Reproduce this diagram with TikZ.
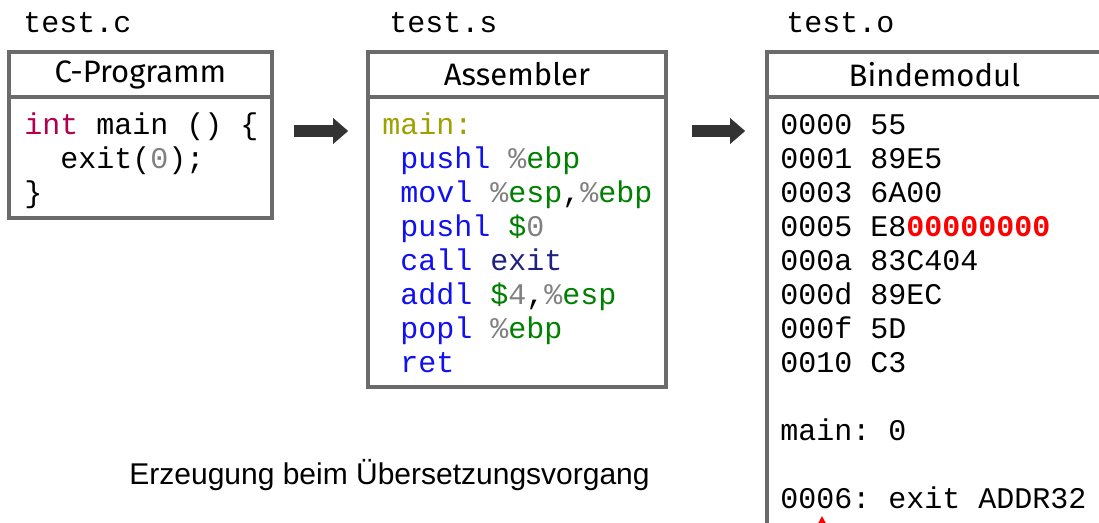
\documentclass[tikz,border=0pt]{standalone}
\usepackage{fontspec}
\setmainfont{Liberation Sans}
\setmonofont{Liberation Mono}
\newfontfamily\kopffont{Fira Sans}
\usetikzlibrary{arrows.meta,positioning}

\definecolor{rahmengrau}{HTML}{6B6B6B}
\definecolor{pfeilgrau}{HTML}{333333}
\definecolor{typrot}{HTML}{B0004F}
\definecolor{marke}{HTML}{A0A000}
\definecolor{befehlblau}{HTML}{1010F0}
\definecolor{regruen}{HTML}{008000}
\definecolor{zahlgrau}{HTML}{808080}
\definecolor{aufruf}{HTML}{202080}
\definecolor{fehlerrot}{HTML}{FF0000}

\newcommand\befehl[1]{\textcolor{befehlblau}{#1}}
\newcommand\regname[1]{\textcolor{zahlgrau}{\%}\textcolor{regruen}{#1}}
\newcommand\konst[1]{\textcolor{regruen}{\$}\textcolor{zahlgrau}{#1}}
\newcommand\einr{\hphantom{0}}

\begin{document}
\begin{tikzpicture}[x=0.5pt, y=-0.5pt,
	rahmen/.style={draw=rahmengrau, line width=1.75pt, inner sep=0pt, outer sep=0pt},
	kopf/.style={rahmen, font=\kopffont\fontsize{15.5pt}{18pt}\selectfont},
	code/.style={inner sep=0pt, align=left, font=\ttfamily\fontsize{15pt}{17pt}\selectfont},
	datei/.style={inner sep=0pt, anchor=base west, font=\ttfamily\fontsize{15pt}{17pt}\selectfont},
	pfeil/.style={draw=pfeilgrau, line width=6pt, -{Triangle[length=7.5pt,width=13pt,line width=0.01pt]}},]

\useasboundingbox (0,0) rectangle (1099,523);
\clip (0,0) rectangle (1099,523);

% C-Programm (base = letzte Zeile)
\node[datei] (cdatei) at (23,33) {test.c};
\node[kopf, anchor=north west, minimum width=131.5pt, minimum height=22.5pt] (ckopf) at (9,52) {C-Programm};
\node[rahmen, below=0pt of ckopf, minimum width=131.5pt, minimum height=60.5pt] (cbody) {};
\node[code, anchor=base west] (ccode) at (24,203) {\textcolor{typrot}{int} main () \{\\
\einr\einr exit(\textcolor{zahlgrau}{0});\\
\}};

% Assembler
\node[datei] (sdatei) at (389,33) {test.s};
\node[kopf, anchor=north west, minimum width=149pt, minimum height=22.5pt] (skopf) at (368,52) {Assembler};
\node[rahmen, below=0pt of skopf, minimum width=149pt, minimum height=145pt] (sbody) {};
\node[code, anchor=base west] (scode) at (382,373) {\textcolor{marke}{main:}\\
\einr\befehl{pushl} \regname{ebp}\\
\einr\befehl{movl} \regname{esp},\regname{ebp}\\
\einr\befehl{pushl} \konst{0}\\
\einr\befehl{call} \textcolor{aufruf}{exit}\\
\einr\befehl{addl} \konst{4},\regname{esp}\\
\einr\befehl{popl} \regname{ebp}\\
\einr\befehl{ret}};

% Bindemodul
\node[datei] (odatei) at (786,33) {test.o};
\node[kopf, anchor=north west, minimum width=167.5pt, minimum height=22.5pt] (okopf) at (767,52) {Bindemodul};
\node[rahmen, below=0pt of okopf, minimum width=167.5pt, minimum height=231.5pt] (obody) {};
\node[code, anchor=base west] (ocode) at (780,509) {0000 55\\
0001 89E5\\
0003 6A00\\
0005 E8\textcolor{fehlerrot}{\bfseries 00000000}\\
000a 83C404\\
000d 89EC\\
000f 5D\\
0010 C3\\[17pt]
main: 0\\[17pt]
0006: exit ADDR32};

\node[anchor=base west, inner sep=0pt, font=\fontsize{15pt}{18pt}\selectfont] (hinweis) at (129,485) {Erzeugung beim Übersetzungsvorgang};

% Pfeile
\coordinate (pfeilhoehe) at (0,131);
\draw[pfeil, shorten <=11pt, shorten >=10pt] (cbody.east |- pfeilhoehe) -- (sbody.west |- pfeilhoehe);
\draw[pfeil, shorten <=13pt, shorten >=11pt] (sbody.east |- pfeilhoehe) -- (obody.west |- pfeilhoehe);

\coordinate (fehlerspitze) at (822,516);
\coordinate (fehlerfuss) at (822,560);
\draw[fehlerrot, line width=1pt, -{Triangle[length=5pt,width=5pt]}] (fehlerfuss) -- (fehlerspitze);

\end{tikzpicture}
\end{document}
